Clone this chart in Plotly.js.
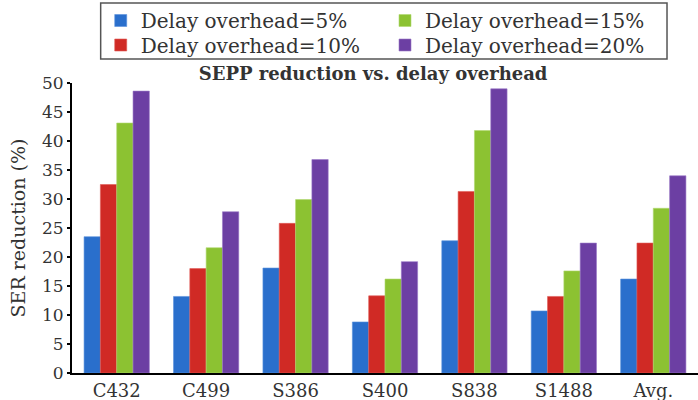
<!DOCTYPE html>
<html>
<head>
<meta charset="utf-8">
<script src="https://cdn.plot.ly/plotly-3.0.1.min.js"></script>
<style>
  html, body { margin: 0; padding: 0; background: #fff; }
  #chart { width: 698px; height: 400px; }
</style>
</head>
<body>
<div id="chart"></div>
<script>
// Benchmark circuits on the x axis
const circuits = ['C432', 'C499', 'S386', 'S400', 'S838', 'S1488', 'Avg.'];

// SER reduction (%) per delay-overhead budget
const overhead5  = [23.5, 13.2, 18.1,  8.8, 22.8, 10.7, 16.2];
const overhead10 = [32.5, 18.0, 25.8, 13.3, 31.3, 13.2, 22.4];
const overhead15 = [43.1, 21.6, 29.9, 16.2, 41.8, 17.6, 28.4];
const overhead20 = [48.6, 27.8, 36.8, 19.2, 49.0, 22.4, 34.0];

const seriesNames = ['Delay overhead=5%', 'Delay overhead=10%', 'Delay overhead=15%', 'Delay overhead=20%'];
const seriesValues = [overhead5, overhead10, overhead15, overhead20];
const seriesColors = ['#2a6fcc', '#d02a25', '#8cc232', '#6c3fa3'];
const edgeColors   = ['#5a92dc', '#e05a55', '#b0d870', '#9a78c8'];
// one legend per entry so the 2x2 key can be laid out column-wise
const legendIds    = ['legend', 'legend2', 'legend3', 'legend4'];

const serif = 'DejaVu Serif';
const textColor = '#333';

const traces = seriesNames.map((name, i) => ({
  type: 'bar',
  name: name,
  x: circuits,
  y: seriesValues[i],
  legend: legendIds[i],
  marker: { color: seriesColors[i], line: { color: edgeColors[i], width: 0.6 } },
  hoverinfo: 'x+y+name'
}));

// key positions (paper coordinates): left/right column, upper/lower row
const colLeft = 0.0459, colRight = 0.500;
const rowTop = 1.2155, rowBottom = 1.131;

function keyLegend(x, y) {
  return {
    orientation: 'v',
    x: x, xanchor: 'left',
    y: y, yanchor: 'middle',
    borderwidth: 0,
    bgcolor: 'rgba(0,0,0,0)',
    itemwidth: 30,
    font: { family: serif, size: 20, color: textColor }
  };
}

const layout = {
  width: 698,
  height: 400,
  margin: { l: 72, r: 0, t: 83, b: 27 },
  paper_bgcolor: '#fff',
  plot_bgcolor: '#fff',
  barmode: 'group',
  bargap: 0.27,
  bargroupgap: 0,
  font: { family: serif, color: textColor },
  title: {
    text: '<b>SEPP reduction vs. delay overhead</b>',
    font: { family: serif, size: 18, color: textColor },
    x: 0.481, xanchor: 'center', xref: 'paper',
    y: 0.815, yref: 'container', yanchor: 'middle'
  },
  showlegend: true,
  legend:  keyLegend(colLeft, rowTop),
  legend2: keyLegend(colLeft, rowBottom),
  legend3: keyLegend(colRight, rowTop),
  legend4: keyLegend(colRight, rowBottom),
  // frame round the whole key
  shapes: [{
    type: 'rect', xref: 'paper', yref: 'paper',
    x0: 0.0458, x1: 0.9505, y0: 1.0828, y1: 1.2759,
    line: { color: '#555', width: 1.5 },
    fillcolor: 'rgba(0,0,0,0)'
  }],
  xaxis: {
    range: [-0.5, 6.5],
    showline: true,
    linecolor: '#000',
    linewidth: 2,
    ticks: '',
    showgrid: false,
    zeroline: false,
    tickfont: { family: serif, size: 18, color: textColor },
    fixedrange: true
  },
  yaxis: {
    range: [0, 50],
    dtick: 5,
    tick0: 0,
    showline: true,
    linecolor: '#000',
    linewidth: 2,
    ticks: 'outside',
    ticklen: 3,
    tickwidth: 1.5,
    tickcolor: '#000',
    showgrid: false,
    zeroline: false,
    tickfont: { family: serif, size: 17, color: textColor },
    title: {
      text: 'SER reduction (%)',
      font: { family: serif, size: 19, color: textColor },
      standoff: 11
    },
    fixedrange: true
  }
};

Plotly.newPlot('chart', traces, layout, { displayModeBar: false, staticPlot: true });
</script>
</body>
</html>
